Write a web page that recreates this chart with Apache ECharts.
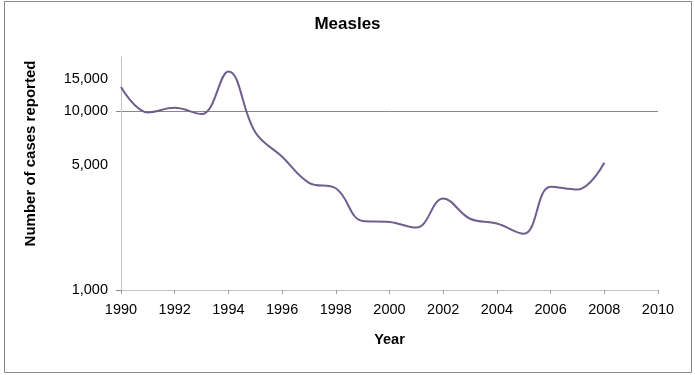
<!DOCTYPE html>
<html>
<head>
<meta charset="utf-8">
<script src="https://cdn.jsdelivr.net/npm/echarts@6/dist/echarts.min.js"></script>
<style>
    html, body { margin: 0; padding: 0; background: #fff; }
    #chart { width: 695px; height: 375px; }
</style>
</head>
<body>
<div id="chart"></div>
<script>
// measles cases per year
var years = [1990, 1991, 1992, 1993, 1994, 1995, 1996, 1997, 1998, 1999,
    2000, 2001, 2002, 2003, 2004, 2005, 2006, 2007, 2008];
var cases = [13600, 9800, 10400, 9600, 16600, 7600, 5550, 3970, 3700, 2430,
    2400, 2230, 3240, 2500, 2350, 2060, 3770, 3640, 5130];
var yLabels = [1000, 5000, 10000, 15000];
var yTicks = [1000, 10000];

var points = [];
for (var i = 0; i < years.length; i++) {
    points.push([years[i], cases[i]]);
}

var chart = echarts.init(document.getElementById('chart'));
var font = 'Liberation Sans, Arial, sans-serif';

chart.setOption({
    animation: false,
    title: {
        text: 'Measles',
        left: 'center',
        top: 11,
        textStyle: { fontFamily: font, fontSize: 17, fontWeight: 'bold', color: '#000' }
    },
    grid: { left: 121, right: 37, top: 57, bottom: 85 },
    xAxis: {
        type: 'value',
        min: 1990,
        max: 2010,
        interval: 2,
        name: 'Year',
        nameLocation: 'middle',
        nameGap: 42,
        nameTextStyle: { fontFamily: font, fontSize: 14.5, fontWeight: 'bold', color: '#000' },
        axisLine: { lineStyle: { color: '#c4c4c4' } },
        axisTick: { length: 4, lineStyle: { color: '#a0a0a0' } },
        axisLabel: {
            margin: 12,
            fontFamily: font, fontSize: 14.5, color: '#000',
            formatter: function(v) { return String(v); }
        },
        splitLine: { show: false }
    },
    yAxis: {
        type: 'log',
        logBase: 10,
        min: 1000,
        max: 20000,
        name: 'Number of cases reported',
        nameLocation: 'middle',
        nameGap: 83,
        nameTextStyle: {
            fontFamily: font, fontSize: 15, fontWeight: 'bold', color: '#000',
            padding: [0, 0, 0, 40]
        },
        axisLine: { show: true, lineStyle: { color: '#c4c4c4' } },
        axisTick: { show: true, length: 5, customValues: yTicks, lineStyle: { color: '#888' } },
        axisLabel: {
            margin: 13,
            customValues: yLabels,
            fontFamily: font, fontSize: 14.5, color: '#000'
        },
        splitLine: {
            show: true,
            lineStyle: { color: ['rgba(0,0,0,0)', '#888'], width: 1 }
        }
    },
    series: [{
        type: 'line',
        data: points,
        smooth: 0.4,
        showSymbol: false,
        lineStyle: { color: '#6e5f8e', width: 2 }
    }],
    graphic: [{
        type: 'rect',
        shape: { x: 4.5, y: 1.5, width: 687, height: 371 },
        style: { fill: 'none', stroke: '#8a8a8a', lineWidth: 1 },
        silent: true
    }]
});
</script>
</body>
</html>
